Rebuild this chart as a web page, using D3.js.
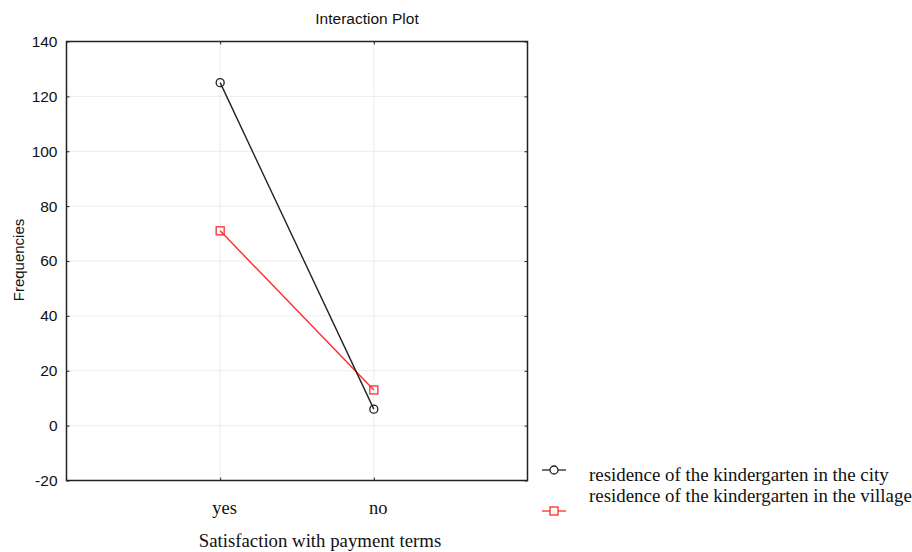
<!DOCTYPE html>
<html><head><meta charset="utf-8">
<script src="https://cdn.jsdelivr.net/npm/d3@7"></script>
<style>body{margin:0;background:#fff}svg{display:block}</style>
</head><body>
<script>
const categories = ["yes", "no"];
const seriesNames = ["residence of the kindergarten in the city", "residence of the kindergarten in the village"];
const cityValues = [125, 6];
const villageValues = [71, 13];
const yTicks = [-20, 0, 20, 40, 60, 80, 100, 120, 140];

const W = 912, H = 552;
const m = {left: 66.5, right: 912 - 527.5, top: 41.5, bottom: 552 - 480.5};
const svg = d3.select("body").append("svg").attr("width", W).attr("height", H);

const x = d3.scalePoint().domain(categories).range([m.left, W - m.right]).padding(1);
const y = d3.scaleLinear().domain([-20, 140]).range([H - m.bottom, m.top]);

// grid
const g = svg.append("g");
g.selectAll(".hg").data(yTicks.filter(t => t > -20 && t < 140)).join("line")
  .attr("x1", m.left).attr("x2", W - m.right).attr("y1", d => y(d)).attr("y2", d => y(d))
  .attr("stroke", "#ececec").attr("stroke-width", 1);
g.selectAll(".vg").data(categories).join("line")
  .attr("x1", d => x(d)).attr("x2", d => x(d)).attr("y1", m.top).attr("y2", H - m.bottom)
  .attr("stroke", "#ececec").attr("stroke-width", 1);

// axes
const yAxis = d3.axisLeft(y).tickValues(yTicks).tickSize(-3).tickPadding(9).tickFormat(d => String(d));
const ya = svg.append("g").attr("transform", `translate(${m.left},0)`).call(yAxis);
ya.select(".domain").remove();
ya.selectAll("line").attr("stroke", "#222");
ya.selectAll("text").attr("font-family", "Liberation Sans, Arial, sans-serif").attr("font-size", 15.5).attr("fill", "#111");

const yAxisR = d3.axisRight(y).tickValues(yTicks).tickSize(-3).tickFormat("");
const yr = svg.append("g").attr("transform", `translate(${W - m.right},0)`).call(yAxisR);
yr.select(".domain").remove();
yr.selectAll("line").attr("stroke", "#222");

const xAxis = d3.axisBottom(x).tickSize(-3).tickPadding(20);
const xa = svg.append("g").attr("transform", `translate(0,${H - m.bottom})`).call(xAxis);
xa.select(".domain").remove();
xa.selectAll("line").attr("stroke", "#222");
xa.selectAll("text").attr("font-family", "Liberation Serif, Times New Roman, serif").attr("font-size", 18.5).attr("fill", "#111").attr("dx", 4);

const xTop = d3.axisTop(x).tickSize(-3).tickFormat("");
const xt = svg.append("g").attr("transform", `translate(0,${m.top})`).call(xTop);
xt.select(".domain").remove();
xt.selectAll("line").attr("stroke", "#222");

// frame
svg.append("rect").attr("x", m.left).attr("y", m.top)
  .attr("width", W - m.right - m.left).attr("height", H - m.bottom - m.top)
  .attr("fill", "none").attr("stroke", "#222").attr("stroke-width", 1.5);

// lines
const line = d3.line().x((d, i) => x(categories[i])).y(d => y(d));
svg.append("path").datum(villageValues).attr("d", line).attr("fill", "none").attr("stroke", "#ff2a2a").attr("stroke-width", 1.4);
svg.append("path").datum(cityValues).attr("d", line).attr("fill", "none").attr("stroke", "#222").attr("stroke-width", 1.4);

svg.selectAll(".cm").data(cityValues).join("circle")
  .attr("cx", (d, i) => x(categories[i])).attr("cy", d => y(d)).attr("r", 4)
  .attr("fill", "none").attr("stroke", "#222").attr("stroke-width", 1.3);
svg.selectAll(".vm").data(villageValues).join("rect")
  .attr("x", (d, i) => x(categories[i]) - 4).attr("y", d => y(d) - 4).attr("width", 8).attr("height", 8)
  .attr("fill", "none").attr("stroke", "#ff2a2a").attr("stroke-width", 1.3);

// titles
svg.append("text").attr("x", 367).attr("y", 24).attr("text-anchor", "middle")
  .attr("font-family", "Liberation Sans, Arial, sans-serif").attr("font-size", 15.5).attr("fill", "#111").text("Interaction Plot");
svg.append("text").attr("transform", `translate(23.5,260) rotate(-90)`).attr("text-anchor", "middle")
  .attr("font-family", "Liberation Sans, Arial, sans-serif").attr("font-size", 15).attr("fill", "#111").text("Frequencies");
svg.append("text").attr("x", 320).attr("y", 547).attr("text-anchor", "middle")
  .attr("font-family", "Liberation Serif, Times New Roman, serif").attr("font-size", 18.8).attr("fill", "#111").text("Satisfaction with payment terms");

// legend
const leg = svg.append("g");
const legY = [470, 511];
const textY = [481, 502];
const colors = ["#222", "#ff2a2a"];
leg.selectAll(".ll").data(seriesNames).join("line")
  .attr("x1", 542).attr("x2", 566).attr("y1", (d, i) => legY[i]).attr("y2", (d, i) => legY[i])
  .attr("stroke", (d, i) => colors[i]).attr("stroke-width", 1.3);
leg.append("circle").attr("cx", 554).attr("cy", legY[0]).attr("r", 4).attr("fill", "#fff").attr("stroke", colors[0]).attr("stroke-width", 1.3);
leg.append("rect").attr("x", 550).attr("y", legY[1] - 4).attr("width", 8).attr("height", 8).attr("fill", "#fff").attr("stroke", colors[1]).attr("stroke-width", 1.3);
leg.selectAll(".lt").data(seriesNames).join("text")
  .attr("x", 589).attr("y", (d, i) => textY[i])
  .attr("font-family", "Liberation Serif, Times New Roman, serif").attr("font-size", 18.9).attr("fill", "#111").text(d => d);
</script>
</body></html>
